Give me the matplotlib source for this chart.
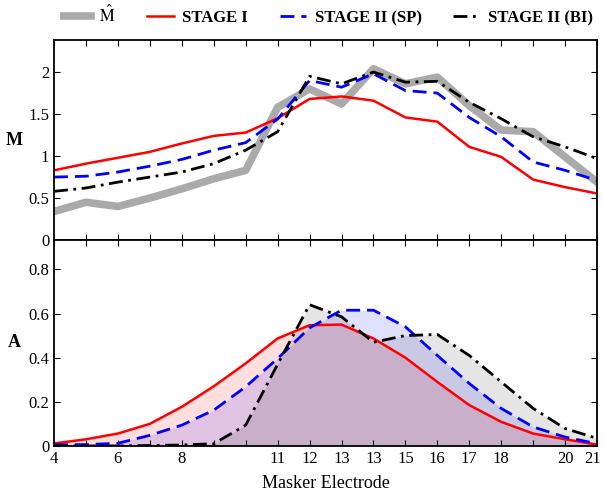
import matplotlib
matplotlib.use('Agg')
import matplotlib.pyplot as plt
from matplotlib.transforms import ScaledTranslation

plt.rcParams['font.family'] = 'Liberation Serif'
plt.rcParams['mathtext.fontset'] = 'stix'

# masker electrodes 4..21
electrodes = list(range(4, 22))
tick_pos = [4, 6, 8, 11, 12, 13, 14, 15, 16, 17, 18, 20, 21]
tick_labels = ['4', '6', '8', '11', '12', '13', '13', '15', '16', '17', '18', '20', '21']

# top panel: M
m_hat = [0.34, 0.45, 0.40, 0.50, 0.61, 0.73, 0.83, 1.58, 1.80, 1.62, 2.04, 1.86, 1.94, 1.60, 1.31, 1.29, 0.99, 0.69]
m_stage1 = [0.83, 0.91, 0.98, 1.05, 1.15, 1.24, 1.28, 1.45, 1.68, 1.71, 1.66, 1.46, 1.41, 1.11, 0.99, 0.72, 0.63, 0.555]
m_stage2_sp = [0.75, 0.76, 0.81, 0.88, 0.96, 1.07, 1.16, 1.44, 1.90, 1.82, 1.98, 1.78, 1.75, 1.46, 1.23, 0.93, 0.83, 0.71]
m_stage2_bi = [0.58, 0.62, 0.69, 0.75, 0.81, 0.91, 1.07, 1.29, 1.95, 1.86, 2.00, 1.88, 1.89, 1.64, 1.445, 1.23, 1.11, 0.97]

# bottom panel: A
a_stage1 = [0.011, 0.03, 0.056, 0.10, 0.177, 0.27, 0.374, 0.487, 0.547, 0.55, 0.487, 0.40, 0.29, 0.185, 0.109, 0.056, 0.03, 0.006]
a_stage2_sp = [0.005, 0.006, 0.012, 0.048, 0.094, 0.162, 0.268, 0.396, 0.535, 0.615, 0.615, 0.54, 0.41, 0.283, 0.17, 0.086, 0.04, 0.01]
a_stage2_bi = [0.0, 0.0, 0.0, 0.002, 0.004, 0.01, 0.094, 0.37, 0.64, 0.585, 0.47, 0.50, 0.505, 0.41, 0.29, 0.17, 0.079, 0.034]

fig = plt.figure(figsize=(6.03, 4.96), dpi=100)
ax1 = fig.add_axes([0.0896, 0.516, 0.9005, 0.403])
ax2 = fig.add_axes([0.0896, 0.101, 0.9005, 0.415])

sp_dash = (0, (5, 2.5))
bi_dash = (0, (5, 2, 1, 2))

l0, = ax1.plot(electrodes, m_hat, color='#aaaaaa', lw=5.5)
l1, = ax1.plot(electrodes, m_stage1, color='red', lw=1.8)
l2, = ax1.plot(electrodes, m_stage2_sp, color='blue', lw=2.0, ls=sp_dash)
l3, = ax1.plot(electrodes, m_stage2_bi, color='black', lw=2.0, ls=bi_dash)

ax2.fill_between(electrodes, a_stage1, color='red', alpha=0.13, lw=0)
ax2.fill_between(electrodes, a_stage2_sp, color='blue', alpha=0.12, lw=0)
ax2.fill_between(electrodes, a_stage2_bi, color='black', alpha=0.10, lw=0)
ax2.plot(electrodes, a_stage1, color='red', lw=1.8)
ax2.plot(electrodes, a_stage2_sp, color='blue', lw=2.0, ls=sp_dash)
ax2.plot(electrodes, a_stage2_bi, color='black', lw=2.0, ls=bi_dash)

for ax in (ax1, ax2):
    ax.set_xlim(4, 21)
    ax.set_xticks(electrodes)
    ax.tick_params(direction='in', top=True, right=True, length=4, labelsize=12, width=0.8)
    for s in ax.spines.values():
        s.set_linewidth(1.3)

ax1.set_xticklabels([])
ax2.set_xticklabels([tick_labels[tick_pos.index(e)] if e in tick_pos else '' for e in electrodes])
# nudge the last label so it stays inside the figure
last = ax2.get_xticklabels()[-1]
last.set_transform(last.get_transform() + ScaledTranslation(-3 / 72, 0, fig.dpi_scale_trans))

ax1.set_ylim(0, 2.38)
ax1.set_yticks([0, 0.5, 1, 1.5, 2])
ax1.set_yticklabels(['0', '0.5', '1', '1.5', '2'])
ax2.set_ylim(0, 0.933)
ax2.set_yticks([0, 0.2, 0.4, 0.6, 0.8])
ax2.set_yticklabels(['0', '0.2', '0.4', '0.6', '0.8'])

ax1.set_ylabel('M', rotation=0, fontsize=13, fontweight='bold', labelpad=10, va='center')
ax2.set_ylabel('A', rotation=0, fontsize=13, fontweight='bold', labelpad=10, va='center')
ax2.set_xlabel('Masker Electrode', fontsize=13, labelpad=6)

fig.legend([l0, l1, l2, l3],
           [r'$\hat{\mathrm{M}}$', 'STAGE I', 'STAGE II (SP)', 'STAGE II (BI)'],
           loc='upper center', bbox_to_anchor=(0.545, 1.02), ncol=4, frameon=False,
           prop={'size': 12, 'weight': 'bold'}, handlelength=1.6,
           columnspacing=1.9, handletextpad=0.5)

fig.savefig('out.png', dpi=100)
